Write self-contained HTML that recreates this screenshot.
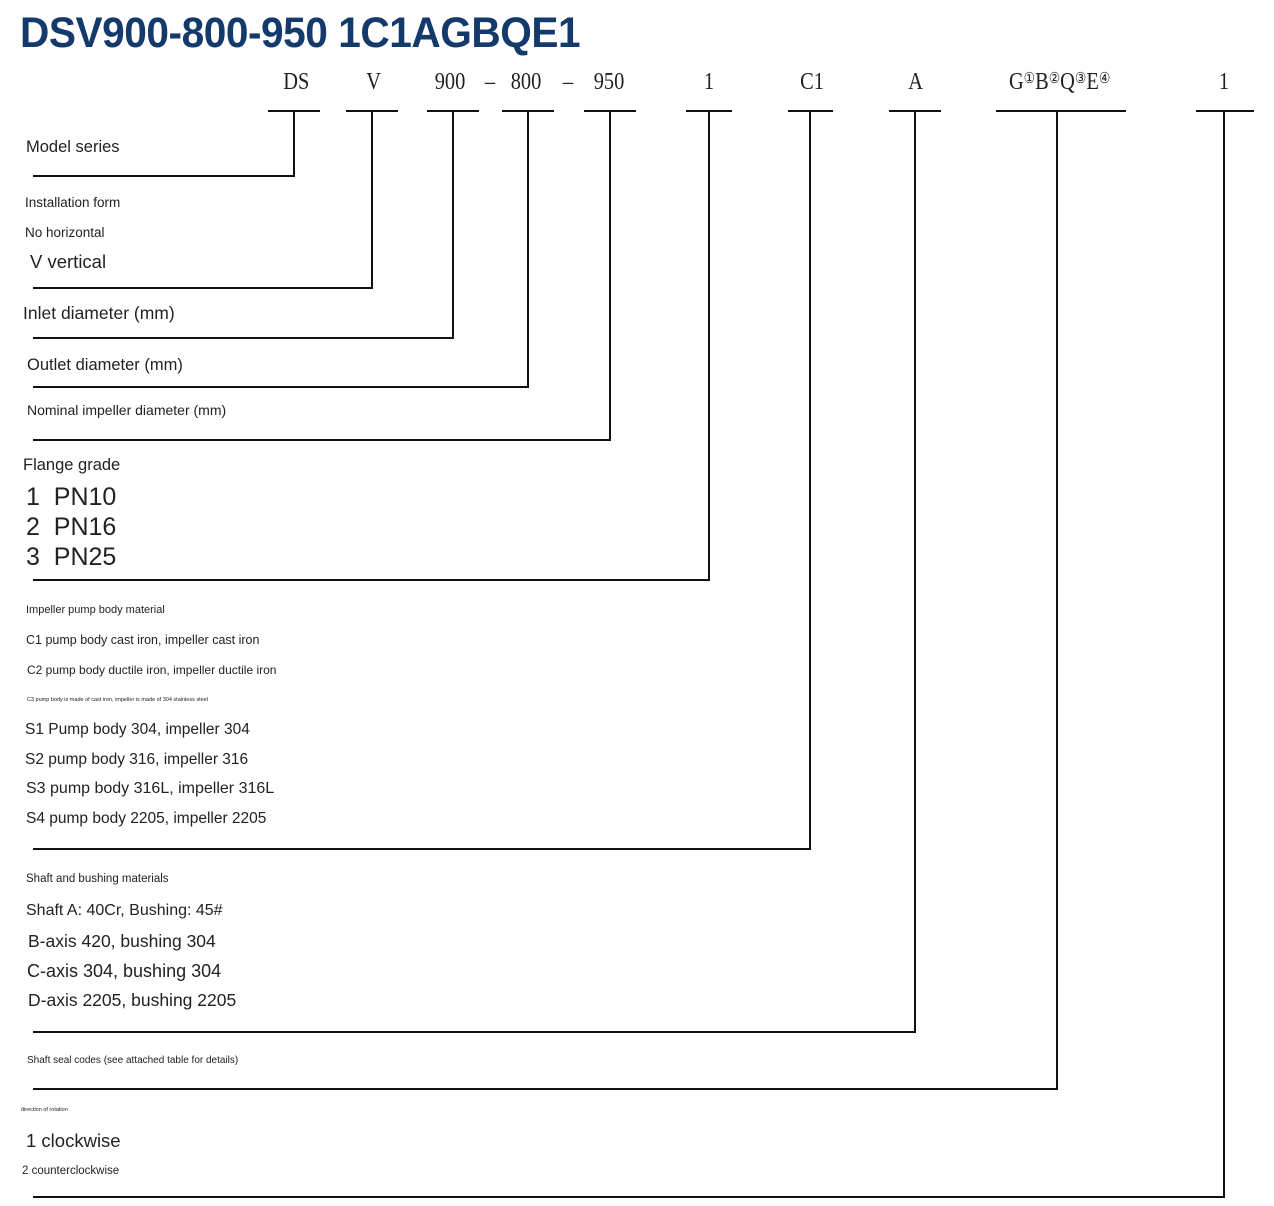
<!DOCTYPE html>
<html><head><meta charset="utf-8"><style>
body{margin:0;width:1274px;height:1206px;background:#fff;position:relative;overflow:hidden;font-family:"Liberation Sans",sans-serif;color:#222}
.t{position:absolute;white-space:nowrap;line-height:1}
.c{position:absolute;white-space:nowrap;line-height:1;font-family:"Liberation Serif",serif;font-size:24px;color:#222;transform:scaleX(0.85);transform-origin:center}
h1{position:absolute;left:20px;top:12px;margin:0;font-size:43px;font-weight:bold;color:#143a6c;line-height:1;letter-spacing:-0.5px;transform:scaleX(0.945);transform-origin:left}
</style></head><body>
<h1>DSV900-800-950 1C1AGBQE1</h1>
<div class="c" style="left:281px;top:70px">DS</div>
<div class="c" style="left:365px;top:70px">V</div>
<div class="c" style="left:432px;top:70px">900</div>
<div class="c" style="left:484px;top:70px">–</div>
<div class="c" style="left:508px;top:70px">800</div>
<div class="c" style="left:562px;top:70px">–</div>
<div class="c" style="left:591px;top:70px">950</div>
<div class="c" style="left:703px;top:70px">1</div>
<div class="c" style="left:798px;top:70px">C1</div>
<div class="c" style="left:907px;top:70px">A</div>
<div class="c" style="left:1000px;top:70px">G<span style="font-size:15px;vertical-align:6px">①</span>B<span style="font-size:15px;vertical-align:6px">②</span>Q<span style="font-size:15px;vertical-align:6px">③</span>E<span style="font-size:15px;vertical-align:6px">④</span></div>
<div class="c" style="left:1218px;top:70px">1</div>
<svg width="1274" height="1206" style="position:absolute;left:0;top:0" fill="none" stroke="#111" stroke-width="2">
<path d="M268 111H320M294 111V176H33"/>
<path d="M346 111H398M372 111V288H33"/>
<path d="M427 111H479M453 111V338H33"/>
<path d="M502 111H554M528 111V387H33"/>
<path d="M584 111H636M610 111V440H33"/>
<path d="M686 111H732M709 111V580H33"/>
<path d="M788 111H833M810 111V849H33"/>
<path d="M889 111H941M915 111V1032H33"/>
<path d="M996 111H1126M1057 111V1089H33"/>
<path d="M1196 111H1254M1224 111V1197H33"/>
</svg>
<div class="t" style="left:26px;top:139px;font-size:16.5px">Model series</div>
<div class="t" style="left:25px;top:196px;font-size:13.5px">Installation form</div>
<div class="t" style="left:25px;top:226px;font-size:13.5px">No horizontal</div>
<div class="t" style="left:30px;top:253px;font-size:18.5px">V vertical</div>
<div class="t" style="left:23px;top:305px;font-size:17.5px">Inlet diameter (mm)</div>
<div class="t" style="left:27px;top:357px;font-size:16.5px">Outlet diameter (mm)</div>
<div class="t" style="left:27px;top:403px;font-size:14px">Nominal impeller diameter (mm)</div>
<div class="t" style="left:23px;top:457px;font-size:16.5px">Flange grade</div>
<div class="t" style="left:26px;top:485px;font-size:25px">1&nbsp; PN10</div>
<div class="t" style="left:26px;top:515px;font-size:25px">2&nbsp; PN16</div>
<div class="t" style="left:26px;top:545px;font-size:25px">3&nbsp; PN25</div>
<div class="t" style="left:26px;top:605px;font-size:11px">Impeller pump body material</div>
<div class="t" style="left:26px;top:634px;font-size:12.5px">C1 pump body cast iron, impeller cast iron</div>
<div class="t" style="left:27px;top:664px;font-size:12px">C2 pump body ductile iron, impeller ductile iron</div>
<div class="t" style="left:27px;top:698px;font-size:5.5px">C3 pump body is made of cast iron, impeller is made of 304 stainless steel</div>
<div class="t" style="left:25px;top:722px;font-size:15.5px">S1 Pump body 304, impeller 304</div>
<div class="t" style="left:25px;top:752px;font-size:15.5px">S2 pump body 316, impeller 316</div>
<div class="t" style="left:26px;top:781px;font-size:16px">S3 pump body 316L, impeller 316L</div>
<div class="t" style="left:26px;top:811px;font-size:15.5px">S4 pump body 2205, impeller 2205</div>
<div class="t" style="left:26px;top:874px;font-size:11.5px">Shaft and bushing materials</div>
<div class="t" style="left:26px;top:903px;font-size:16px">Shaft A: 40Cr, Bushing: 45#</div>
<div class="t" style="left:28px;top:933px;font-size:17.5px">B-axis 420, bushing 304</div>
<div class="t" style="left:27px;top:962px;font-size:18px">C-axis 304, bushing 304</div>
<div class="t" style="left:28px;top:992px;font-size:17.5px">D-axis 2205, bushing 2205</div>
<div class="t" style="left:27px;top:1056px;font-size:10px">Shaft seal codes (see attached table for details)</div>
<div class="t" style="left:21px;top:1108px;font-size:5.5px">direction of rotation</div>
<div class="t" style="left:26px;top:1132px;font-size:18.5px">1 clockwise</div>
<div class="t" style="left:22px;top:1166px;font-size:11.5px">2 counterclockwise</div>
</body></html>
